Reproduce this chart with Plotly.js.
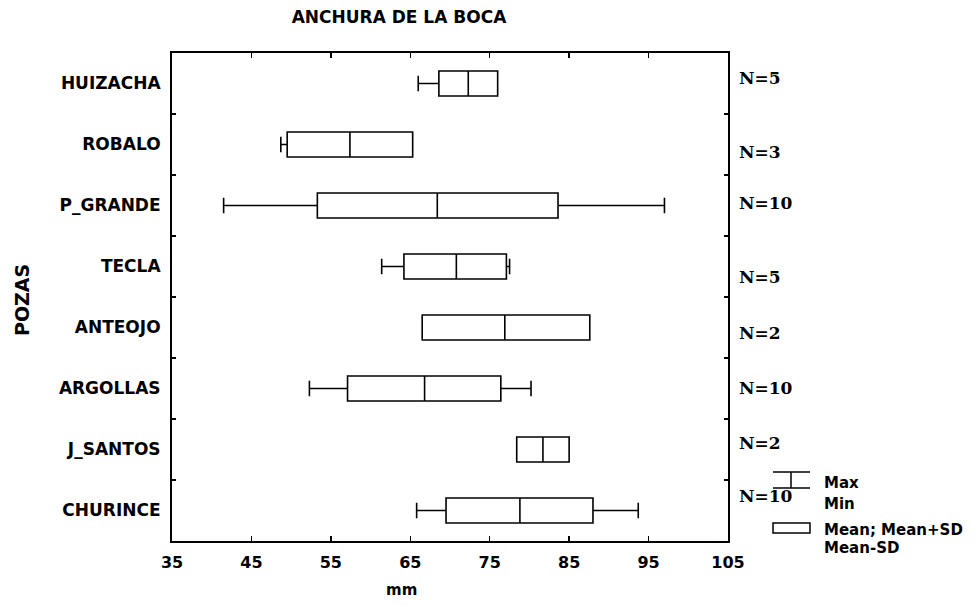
<!DOCTYPE html>
<html>
<head>
<meta charset="utf-8">
<script src="https://cdn.plot.ly/plotly-3.0.1.min.js"></script>
<style>html,body{margin:0;padding:0;background:#fff;}#chart{width:976px;height:606px;}</style>
</head>
<body>
<div id="chart"></div>
<script>
// ---- data ----
const categories  = ['HUIZACHA','ROBALO','P_GRANDE','TECLA','ANTEOJO','ARGOLLAS','J_SANTOS','CHURINCE'];
const nCounts     = [5, 3, 10, 5, 2, 10, 2, 10];
const meanV       = [72.3, 57.4, 68.4, 70.8, 76.9, 66.8, 81.7, 78.8];
const meanMinusSD = [68.6, 49.5, 53.3, 64.2, 66.5, 57.1, 78.4, 69.5];
const meanPlusSD  = [76.0, 65.3, 83.6, 77.1, 87.6, 76.4, 85.0, 88.0];
const minV        = [66.0, 48.7, 41.5, 61.4, 66.5, 52.3, 78.4, 65.8];
const maxV        = [76.0, 65.3, 97.0, 77.5, 87.6, 80.2, 85.0, 93.7];
const xTicks      = [35, 45, 55, 65, 75, 85, 95, 105];
const titleText   = 'ANCHURA DE LA BOCA';
const xTitle      = 'mm';
const yTitle      = 'POZAS';
const legendTexts = ['Max', 'Min', 'Mean; Mean+SD', 'Mean-SD'];

// ---- layout helpers (pixel geometry of the plot area) ----
const W = 976, H = 606;
const M = {l: 172, r: 248, t: 53, b: 65};
const PW = W - M.l - M.r, PH = H - M.t - M.b;
const px = x => (x - M.l) / PW;
const py = y => (H - M.b - y) / PH;

const sans = 'DejaVu Sans, Verdana, Arial, sans-serif';
const serif = 'DejaVu Serif, Liberation Serif, Times New Roman, serif';

const trace = {
  type: 'box',
  orientation: 'h',
  y: categories,
  q1: meanMinusSD,
  median: meanV,
  q3: meanPlusSD,
  lowerfence: minV,
  upperfence: maxV,
  boxpoints: false,
  width: 0.41,
  whiskerwidth: 0.62,
  fillcolor: '#ffffff',
  line: {color: '#000000', width: 1.6},
  hoverinfo: 'skip',
  showlegend: false
};

const nShift = [6, -7, 3, -10, -5, 1, 7, 15];
const annotations = categories.map((c, i) => ({
  xref: 'paper', yref: 'y', x: px(737), y: c, yshift: nShift[i],
  xanchor: 'left', yanchor: 'middle', showarrow: false,
  text: 'N=' + nCounts[i],
  font: {family: serif, size: 17, weight: 'bold', color: '#000'}
}));

// axis titles
annotations.push({
  xref: 'paper', yref: 'paper', x: px(401), y: py(590),
  xanchor: 'center', yanchor: 'middle', showarrow: false,
  text: xTitle, font: {family: sans, size: 15, weight: 'bold', color: '#000'}
});
annotations.push({
  xref: 'paper', yref: 'paper', x: px(22), y: py(300),
  xanchor: 'center', yanchor: 'middle', showarrow: false, textangle: -90,
  text: yTitle, font: {family: sans, size: 19, weight: 'bold', color: '#000'}
});

// legend texts
const legY = [483, 504, 530, 548];
legendTexts.forEach((t, i) => annotations.push({
  xref: 'paper', yref: 'paper', x: px(822), y: py(legY[i]),
  xanchor: 'left', yanchor: 'middle', showarrow: false,
  text: t, font: {family: sans, size: 15, weight: 'bold', color: '#000'}
}));

const ln = {color: '#000', width: 1.5};
const shapes = [
  {type: 'line', xref: 'paper', yref: 'paper', x0: px(773), x1: px(810), y0: py(472), y1: py(472), line: ln},
  {type: 'line', xref: 'paper', yref: 'paper', x0: px(791), x1: px(791), y0: py(472), y1: py(488), line: ln},
  {type: 'line', xref: 'paper', yref: 'paper', x0: px(773), x1: px(810), y0: py(488), y1: py(488), line: ln},
  {type: 'rect', xref: 'paper', yref: 'paper', x0: px(773), x1: px(810), y0: py(523), y1: py(533), line: ln, fillcolor: '#fff'}
];

const layout = {
  width: W, height: H,
  margin: M,
  paper_bgcolor: '#fff', plot_bgcolor: '#fff',
  showlegend: false,
  title: {
    text: titleText, xref: 'container', yref: 'container',
    x: 399 / W, xanchor: 'center', y: 1 - 17 / H, yanchor: 'middle',
    font: {family: sans, size: 17, weight: 'bold', color: '#000'}
  },
  xaxis: {
    range: [35, 105], tickvals: xTicks, ticktext: xTicks.map(String),
    ticks: 'inside', ticklen: 5, tickwidth: 1.5, tickcolor: '#000',
    showline: true, linecolor: '#000', linewidth: 2, mirror: 'ticks',
    showgrid: false, zeroline: false, ticklabelstandoff: 6,
    tickfont: {family: sans, size: 16, weight: 'bold', color: '#000'}
  },
  yaxis: {
    type: 'category', categoryorder: 'array', categoryarray: categories,
    range: [7.5, -0.5], tickson: 'boundaries',
    ticks: 'inside', ticklen: 4, tickwidth: 1.5, tickcolor: '#000',
    showline: true, linecolor: '#000', linewidth: 2, mirror: 'ticks',
    showgrid: false, zeroline: false, ticklabelstandoff: 6,
    tickfont: {family: sans, size: 17, weight: 'bold', color: '#000'}
  },
  annotations: annotations,
  shapes: shapes
};

Plotly.newPlot('chart', [trace], layout, {displayModeBar: false, staticPlot: true});
</script>
</body>
</html>
